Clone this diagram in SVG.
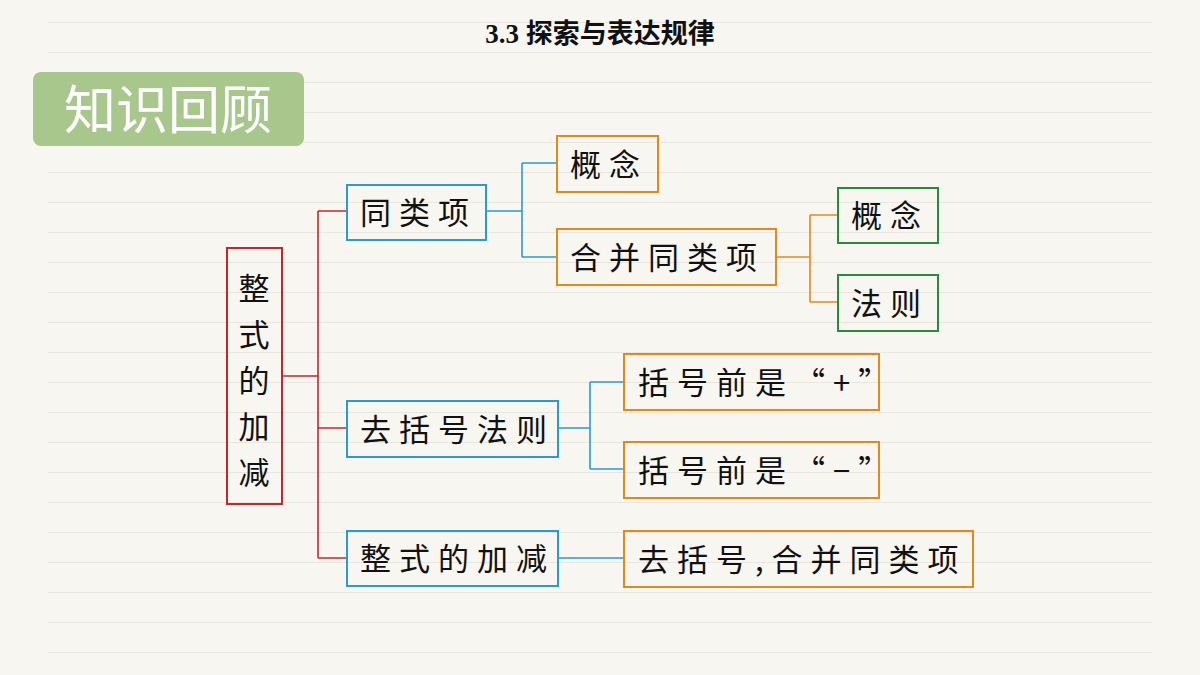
<svg xmlns="http://www.w3.org/2000/svg" width="1200" height="675" viewBox="0 0 1200 675">
<defs>
<pattern id="ln" x="0" y="22" width="1200" height="30" patternUnits="userSpaceOnUse">
<rect x="0" y="0" width="1200" height="1" fill="#e9e6df"/>
</pattern>
<style>
.t{font-family:"Noto Sans CJK SC",sans-serif;font-size:31px;fill:#111;letter-spacing:8px}
.b{fill:none;stroke-width:2}
.bl{stroke:#2a9bd0}.or{stroke:#e08a1e}.gr{stroke:#2a8a3a}.rd{stroke:#c0282c}
.c{fill:none;stroke-width:1.6}
</style>
</defs>
<rect width="1200" height="675" fill="#f8f6f1"/>
<rect x="48" y="0" width="1104" height="660" fill="url(#ln)"/>
<text x="600" y="43" text-anchor="middle" font-family="'Liberation Serif','Noto Sans CJK SC',serif" font-weight="bold" font-size="27" fill="#111">3.3 探索与表达规律</text>
<g id="header">
<rect x="33" y="72" width="271" height="74" rx="8" fill="#a8c78c"/>
<text x="168" y="129" text-anchor="middle" font-family="'Noto Sans CJK SC',sans-serif" font-size="52" fill="#fff">知识回顾</text>
</g>
<g id="connectors">
<path class="c rd" d="M282 376H318M318 211V558M318 211H347M318 428H347M318 558H347"/>
<path class="c bl" d="M486 211H522M522 163V257M522 163H557M522 257H557M558 428H590M590 382V469M590 382H624M590 469H624M558 558H624"/>
<path class="c or" d="M776 257H810M810 215V302M810 215H838M810 302H838"/>
</g>
<g id="root"><rect class="b rd" x="227" y="248" width="55" height="256"/>
<text class="t" style="letter-spacing:0" text-anchor="middle" x="254" y="300">整</text><text class="t" style="letter-spacing:0" text-anchor="middle" x="254" y="346">式</text><text class="t" style="letter-spacing:0" text-anchor="middle" x="254" y="392">的</text><text class="t" style="letter-spacing:0" text-anchor="middle" x="254" y="438">加</text><text class="t" style="letter-spacing:0" text-anchor="middle" x="254" y="484">减</text></g>
<g id="n1"><rect class="b bl" x="347" y="185" width="139" height="55"/><text class="t" x="360" y="224">同类项</text></g>
<g id="n2"><rect class="b bl" x="347" y="401" width="211" height="56"/><text class="t" x="360" y="441">去括号法则</text></g>
<g id="n3"><rect class="b bl" x="347" y="531" width="211" height="55"/><text class="t" x="360" y="570">整式的加减</text></g>
<g id="n4"><rect class="b or" x="557" y="136" width="101" height="56"/><text class="t" x="570" y="176">概念</text></g>
<g id="n5"><rect class="b or" x="557" y="229" width="219" height="56"/><text class="t" x="570" y="269">合并同类项</text></g>
<g id="n6"><rect class="b or" x="624" y="354" width="255" height="56"/><text class="t" x="638" y="394">括号前是“+”</text></g>
<g id="n7"><rect class="b or" x="624" y="442" width="255" height="56"/><text class="t" x="638" y="482">括号前是“−”</text></g>
<g id="n8"><rect class="b or" x="624" y="531" width="349" height="56"/><text class="t" x="638" y="571">去括号,合并同类项</text></g>
<g id="n9"><rect class="b gr" x="838" y="188" width="100" height="55"/><text class="t" x="851" y="227">概念</text></g>
<g id="n10"><rect class="b gr" x="838" y="275" width="100" height="56"/><text class="t" x="851" y="315">法则</text></g>
</svg>
